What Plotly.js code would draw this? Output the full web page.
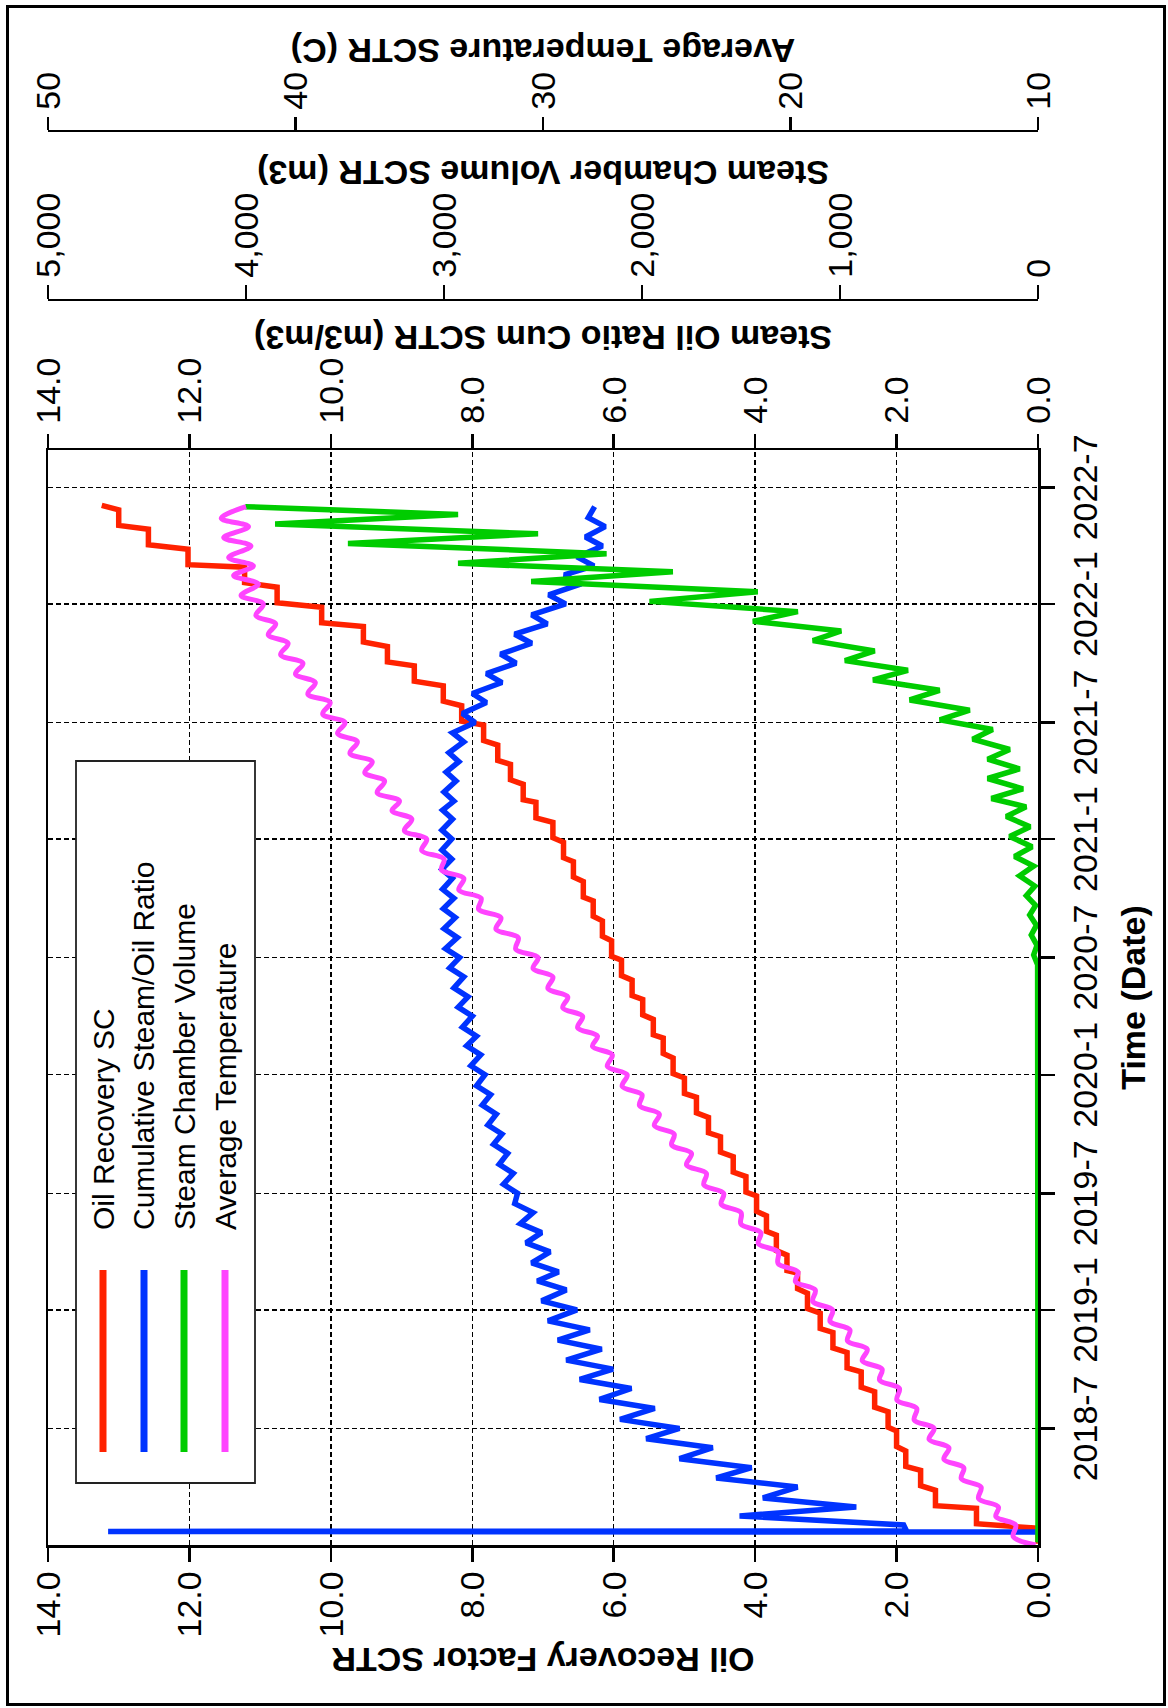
<!DOCTYPE html>
<html><head><meta charset="utf-8">
<script src="https://cdn.plot.ly/plotly-3.0.1.min.js"></script>
<style>
html,body{margin:0;padding:0;background:#fff;}
body{width:1168px;height:1708px;position:relative;overflow:hidden;}
#chart{position:absolute;left:0;top:0;width:1708px;height:1168px;transform-origin:0 0;transform:translate(0px,1708px) rotate(-90deg);}
#frame{position:absolute;left:6px;top:5px;width:1160px;height:1701px;box-sizing:border-box;border:3.5px solid #000;pointer-events:none;}
</style></head><body>
<div id="chart"></div><div id="frame"></div>
<script>
// ---------- DATA ----------
const months = ['2018-01','2018-02','2018-03','2018-04','2018-05','2018-06','2018-07','2018-08','2018-09','2018-10','2018-11','2018-12',
'2019-01','2019-02','2019-03','2019-04','2019-05','2019-06','2019-07','2019-08','2019-09','2019-10','2019-11','2019-12',
'2020-01','2020-02','2020-03','2020-04','2020-05','2020-06','2020-07','2020-08','2020-09','2020-10','2020-11','2020-12',
'2021-01','2021-02','2021-03','2021-04','2021-05','2021-06','2021-07','2021-08','2021-09','2021-10','2021-11','2021-12',
'2022-01','2022-02','2022-03','2022-04','2022-05'];
const endDate = '2022-06-01';

// Oil Recovery Factor SCTR (monthly level)
const oilRecovery = [0,0.87,1.45,1.66,1.87,2.00,2.12,2.31,2.50,2.70,2.90,3.08,
3.26,3.40,3.55,3.70,3.84,3.98,4.13,4.31,4.49,4.66,4.83,5.00,
5.16,5.30,5.44,5.59,5.74,5.89,6.03,6.16,6.29,6.43,6.57,6.71,
6.86,7.10,7.28,7.46,7.64,7.84,8.15,8.41,8.82,9.20,9.54,10.13,
10.76,11.22,12.02,12.58,13.00];
const oilRecoveryEnd = 13.24;

// Cumulative Steam/Oil Ratio: start spike, then monthly low / high (Feb 2018 on)
const sorSpikeDates = ['2018-01-21','2018-01-22','2018-01-23'];
const sorSpikeValues = [0, 13.15, 1.86];
const sorLow = [1.90,2.57,3.40,4.05,4.60,5.07,5.42,5.75,6.01,6.17,6.34,
6.52,6.67,6.78,6.90,7.02,7.14,7.36,7.42,7.50,7.58,7.66,7.74,
7.82,7.88,7.94,8.00,8.06,8.12,8.18,8.21,8.24,8.26,8.28,8.29,
8.29,8.28,8.26,8.23,8.19,8.12,7.96,7.80,7.58,7.38,7.16,6.94,
6.68,6.46,6.28,6.16,6.12];
const sorHigh = [4.22,3.89,4.55,5.07,5.54,5.91,6.20,6.48,6.67,6.79,6.93,
7.02,7.08,7.16,7.24,7.32,7.40,7.56,7.62,7.70,7.78,7.86,7.94,
8.02,8.08,8.14,8.20,8.26,8.32,8.38,8.40,8.41,8.42,8.43,8.43,
8.43,8.42,8.40,8.37,8.33,8.28,8.14,8.00,7.80,7.60,7.40,7.16,
6.92,6.70,6.52,6.40,6.36];
const sorEnd = 6.27;

// Steam Chamber Volume SCTR (m3): monthly peak / low
const chamberPeak = [0,0,0,0,0,0,0,0,0,0,0,0,
0,0,0,0,0,0,0,0,0,0,0,0,
0,0,0,0,0,3,22,34,42,59,93,118,
143,160,235,254,254,330,496,648,833,975,1137,1440,
1962,2560,2929,3485,3853];
const chamberLow = [0,0,0,0,0,0,0,0,0,0,0,0,
0,0,0,0,0,0,0,0,0,0,0,0,
0,0,0,0,0,2,5,8,12,16,22,30,
40,60,76,93,143,229,345,497,657,825,994,1213,
1415,1844,2179,2525,2929];
const chamberEnd = 4004;

// Average Temperature SCTR (C): monthly low / high
const tempLow = [10.1,10.9,11.6,12.3,13.0,13.6,14.2,14.9,15.6,16.3,16.9,17.6,
18.3,19.0,19.7,20.5,21.2,22.0,22.7,23.4,24.0,24.7,25.3,26.0,
26.6,27.2,27.8,28.4,29.0,29.6,30.2,31.0,31.7,32.5,33.2,34.0,
34.7,35.3,35.8,36.4,36.9,37.5,38.0,38.6,39.2,39.7,40.3,40.8,
41.3,41.5,41.7,41.8,41.9];
const tempHigh = [11.0,11.7,12.4,13.1,13.8,14.4,15.0,15.7,16.4,17.1,17.7,18.4,
19.1,19.8,20.5,21.3,22.0,22.8,23.5,24.2,24.8,25.5,26.1,26.8,
27.4,28.0,28.6,29.2,29.8,30.4,31.1,31.9,32.6,33.4,34.1,34.9,
35.6,36.1,36.7,37.2,37.8,38.3,38.9,39.5,40.0,40.6,41.1,41.6,
42.2,42.5,42.7,42.9,43.0];
const tempEnd = 42.0;

// ticks
const timeTickDates = ['2018-07-01','2019-01-01','2019-07-01','2020-01-01','2020-07-01','2021-01-01','2021-07-01','2022-01-01','2022-07-01'];
const timeTickLabels = ['2018-7','2019-1','2019-7','2020-1','2020-7','2021-1','2021-7','2022-1','2022-7'];
const ratioTicks = [0,2,4,6,8,10,12,14];
const volumeTicks = [0,1000,2000,3000,4000,5000];
const tempTicks = [10,20,30,40,50];

const seriesNames = ['Oil Recovery SC','Cumulative Steam/Oil Ratio','Steam Chamber Volume','Average Temperature'];
const seriesColors = ['#ff2200','#0033ff','#00cc00','#ff44ff'];

// ---------- build traces ----------
function pairs(ms, d1, d2, a, b) {
  const x = [], y = [];
  ms.forEach((m, i) => { x.push(m + '-' + d1, m + '-' + d2); y.push(a[i], b[i]); });
  return {x, y};
}
const redP = pairs(months, '03', '27', oilRecovery, oilRecovery);
redP.x.push('2022-06-03'); redP.y.push(oilRecoveryEnd);
const blueP = pairs(months.slice(1), '01', '15', sorLow, sorHigh);
blueP.x = sorSpikeDates.concat(blueP.x, [endDate]);
blueP.y = sorSpikeValues.concat(blueP.y, [sorEnd]);
const greenP = pairs(months, '05', '20', chamberPeak, chamberLow);
greenP.x.push(endDate); greenP.y.push(chamberEnd);
const magP = pairs(months, '01', '14', tempLow, tempHigh);
magP.x.push(endDate); magP.y.push(tempEnd);

const LW = 5.5;
const traces = [
  {x: redP.x, y: redP.y, yaxis: 'y', name: seriesNames[0], mode: 'lines', line: {color: seriesColors[0], width: LW}},
  {x: blueP.x, y: blueP.y, yaxis: 'y2', name: seriesNames[1], mode: 'lines', line: {color: seriesColors[1], width: LW}},
  {x: greenP.x, y: greenP.y, yaxis: 'y3', name: seriesNames[2], mode: 'lines', line: {color: seriesColors[2], width: LW}},
  {x: magP.x, y: magP.y, yaxis: 'y4', name: seriesNames[3], mode: 'lines', line: {color: seriesColors[3], width: 5, shape: 'spline', smoothing: 1}}
];

// ---------- layout ----------
const W = 1708, H = 1168, ML = 163, MR = 40, MT = 48, MB = 130;
const PW = W - ML - MR, PH = H - MT - MB;
const px = v => (v - ML) / PW;           // div x -> paper x
const py = v => (H - MB - v) / PH;       // div y -> paper y
const FONT = 'Liberation Sans, Arial, Helvetica, sans-serif';
const TF = {size: 34, color: '#000', family: FONT};
const TITLEF = {size: 34, color: '#000', family: FONT, weight: 'bold'};
const common = {showline: true, linecolor: '#000', linewidth: 2.5, ticks: 'outside', ticklen: 14, tickwidth: 2.5,
  tickcolor: '#000', zeroline: false, showgrid: false, tickfont: TF, automargin: false};

const layout = {
  width: W, height: H,
  margin: {l: ML, r: MR, t: MT, b: MB, pad: 0},
  paper_bgcolor: '#fff', plot_bgcolor: '#fff',
  font: {family: FONT, color: '#000', size: 34},
  showlegend: false,
  xaxis: Object.assign({}, common, {
    type: 'date', domain: [0, px(1258)], range: ['2018-01-01', '2022-08-28'],
    tickvals: timeTickDates, ticktext: timeTickLabels, tickangle: 0, mirror: true,
    showgrid: true, gridcolor: '#000', gridwidth: 1.3, griddash: '5px,3px', ticklabelstandoff: 2,
    title: {text: 'Time (Date)', font: TITLEF, standoff: 18}
  }),
  yaxis: Object.assign({}, common, {
    range: [0, 14], tickvals: ratioTicks, tickformat: '.1f',
    showgrid: true, gridcolor: '#000', gridwidth: 1.3, griddash: '5px,3px', ticklabelstandoff: 3,
    title: {text: 'Oil Recovery Factor SCTR', font: TITLEF, standoff: 0}
  }),
  yaxis2: Object.assign({}, common, {
    overlaying: 'y', anchor: 'x', side: 'right', range: [0, 14], tickvals: ratioTicks, tickformat: '.1f', ticklabelstandoff: 3,
    title: {text: 'Steam Oil Ratio Cum SCTR (m3/m3)', font: TITLEF, standoff: 9}
  }),
  yaxis3: Object.assign({}, common, {
    overlaying: 'y', anchor: 'free', position: px(1408), side: 'right', range: [0, 5000], tickvals: volumeTicks, tickformat: ',d', ticklabelstandoff: 0,
    title: {text: 'Steam Chamber Volume SCTR (m3)', font: TITLEF, standoff: 8}
  }),
  yaxis4: Object.assign({}, common, {
    overlaying: 'y', anchor: 'free', position: px(1577), side: 'right', range: [10, 50], tickvals: tempTicks, ticklen: 13, ticklabelstandoff: 0,
    title: {text: 'Average Temperature SCTR (C)', font: TITLEF, standoff: 9}
  }),
  shapes: [],
  annotations: []
};

// legend drawn as a boxed key in the upper-left of the plot
const legendItemY = [103, 144, 184, 225];
layout.shapes.push({type: 'rect', xref: 'paper', yref: 'paper', x0: px(225), x1: px(947), y0: py(255), y1: py(76),
  fillcolor: '#fff', line: {color: '#222', width: 1.8}, layer: 'above'});
seriesNames.forEach((n, i) => {
  layout.shapes.push({type: 'line', xref: 'paper', yref: 'paper', x0: px(256), x1: px(438), y0: py(legendItemY[i]), y1: py(legendItemY[i]),
    line: {color: seriesColors[i], width: 7}, layer: 'above'});
  layout.annotations.push({xref: 'paper', yref: 'paper', x: px(476), y: py(legendItemY[i]), xanchor: 'left', yanchor: 'middle',
    text: n, showarrow: false, font: {size: 30, color: '#000', family: FONT}});
});

Plotly.newPlot('chart', traces, layout, {staticPlot: true, displayModeBar: false});
</script></body></html>
